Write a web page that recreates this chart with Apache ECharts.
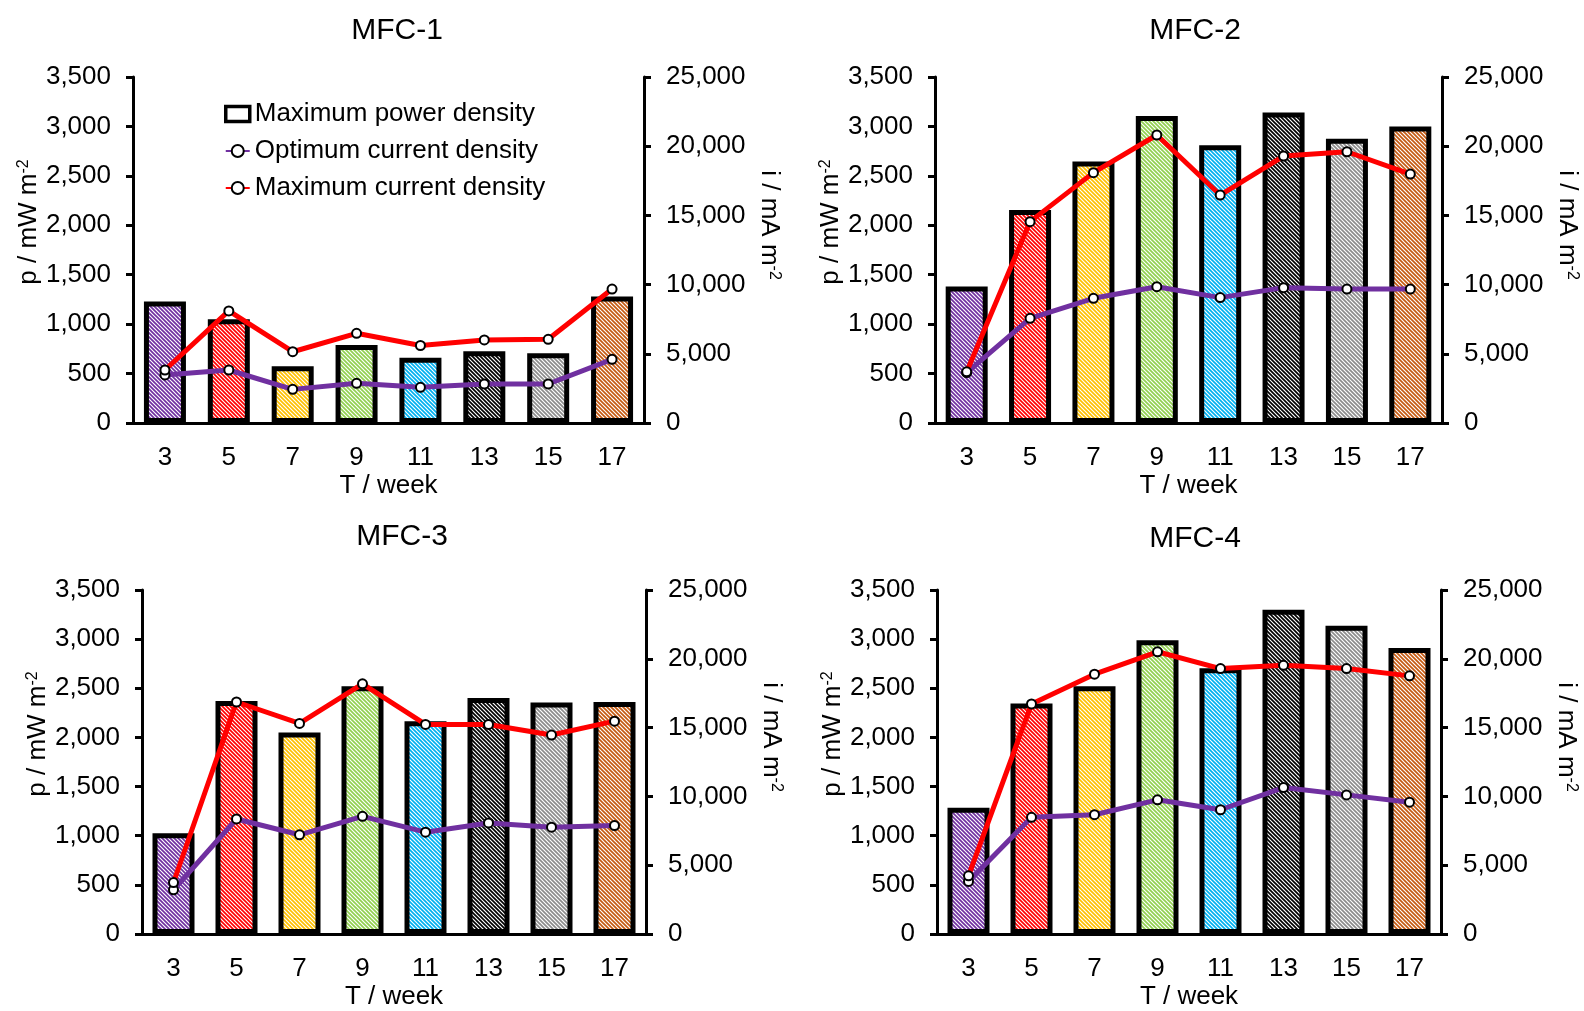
<!DOCTYPE html>
<html>
<head>
<meta charset="utf-8">
<title>MFC power and current density</title>
<script src="https://cdn.jsdelivr.net/npm/echarts@6/dist/echarts.min.js"></script>
<style>
  html, body { margin: 0; padding: 0; background: #fff; }
  #chart-container { width: 1584px; height: 1011px; }
</style>
</head>
<body>
<div id="chart-container"></div>
<script>
// weeks on the x axis
var weeks = ['3', '5', '7', '9', '11', '13', '15', '17'];
var panelTitles = ['MFC-1', 'MFC-2', 'MFC-3', 'MFC-4'];
var leftTicks = [0, 3500, 500];
var rightTicks = [0, 25000, 5000];

// maximum power density, mW m-2 (bars)
var mfc1Power = [1230, 1050, 575, 790, 660, 725, 705, 1280];
var mfc2Power = [1380, 2155, 2645, 3105, 2810, 3140, 2875, 3000];
var mfc3Power = [1025, 2370, 2050, 2520, 2165, 2400, 2355, 2360];
var mfc4Power = [1285, 2345, 2520, 2990, 2705, 3300, 3135, 2910];

// optimum current density, mA m-2 (purple line)
var mfc1Opt = [3470, 3830, 2430, 2870, 2580, 2820, 2820, 4600];
var mfc2Opt = [3640, 7560, 9010, 9850, 9060, 9780, 9680, 9680];
var mfc3Opt = [3210, 8360, 7210, 8550, 7400, 8070, 7760, 7880];
var mfc4Opt = [3820, 8480, 8670, 9750, 9030, 10640, 10110, 9580];

// maximum current density, mA m-2 (red line)
var mfc1Max = [3830, 8100, 5150, 6480, 5600, 6000, 6050, 9680];
var mfc2Max = [3700, 14550, 18090, 20810, 16470, 19290, 19600, 17990];
var mfc3Max = [3740, 16860, 15300, 18180, 15230, 15230, 14460, 15470];
var mfc4Max = [4230, 16720, 18880, 20510, 19290, 19530, 19290, 18760];

var powerData = [mfc1Power, mfc2Power, mfc3Power, mfc4Power];
var optData = [mfc1Opt, mfc2Opt, mfc3Opt, mfc4Opt];
var maxData = [mfc1Max, mfc2Max, mfc3Max, mfc4Max];

var barColors = ['#7030A0', '#FF0000', '#FFC000', '#92D050', '#00B0F0', '#000000', '#8C8C8C', '#C55A11'];

var FONT = '"Liberation Sans", Arial, sans-serif';

// diagonal hatch pattern (\\\) on white
function hatch(color) {
  var c = document.createElement('canvas');
  c.width = 8;
  c.height = 8;
  var ctx = c.getContext('2d');
  ctx.fillStyle = '#fff';
  ctx.fillRect(0, 0, 8, 8);
  ctx.strokeStyle = color;
  ctx.lineWidth = 1.7;
  for (var k = -8; k <= 8; k += 4) {
    ctx.beginPath();
    ctx.moveTo(k - 2, -2);
    ctx.lineTo(k + 10, 10);
    ctx.stroke();
  }
  return c;
}
var patterns = barColors.map(hatch);

// plot areas
var grids = [
  { left: 133, top: 77, width: 511, height: 346 },
  { left: 935, top: 77, width: 507, height: 346 },
  { left: 142, top: 590, width: 504, height: 348 },
  { left: 937, top: 590, width: 504, height: 347 }
];
var titlePos = [[392, 11], [1190, 11], [397, 517], [1190, 519]];

function fmt(v) { return v.toLocaleString('en-US'); }

var axisLine = { show: true, lineStyle: { color: '#000', width: 3 } };
var axisTick = { show: true, length: 7, lineStyle: { color: '#000', width: 3 } };
var labelStyle = { color: '#000', fontSize: 26, fontFamily: FONT };
var supRich = { sup: { fontSize: 16, fontFamily: FONT, color: '#000', verticalAlign: 'top' } };

var title = [], xAxis = [], yAxis = [], series = [];

for (var p = 0; p < 4; p++) {
  title.push({
    text: panelTitles[p],
    left: titlePos[p][0],
    top: titlePos[p][1],
    textAlign: 'center',
    textStyle: { color: '#000', fontSize: 30, fontWeight: 'normal', fontFamily: FONT }
  });
  xAxis.push({
    type: 'category',
    gridIndex: p,
    data: weeks,
    name: 'T / week',
    nameLocation: 'middle',
    nameGap: 50,
    nameTextStyle: labelStyle,
    axisLine: axisLine,
    axisTick: { show: false },
    axisLabel: { color: '#000', fontSize: 26, fontFamily: FONT, margin: 22 }
  });
  yAxis.push({
    type: 'value',
    gridIndex: p,
    position: 'left',
    min: leftTicks[0], max: leftTicks[1], interval: leftTicks[2],
    name: 'p / mW m{sup|-2}',
    nameLocation: 'middle',
    nameGap: 90,
    nameTextStyle: { color: '#000', fontSize: 26, fontFamily: FONT, rich: supRich, padding: [0, 0, 0, 56] },
    axisLine: axisLine,
    axisTick: axisTick,
    splitLine: { show: false },
    axisLabel: { color: '#000', fontSize: 26, fontFamily: FONT, margin: 22, formatter: fmt }
  });
  yAxis.push({
    type: 'value',
    gridIndex: p,
    position: 'right',
    min: rightTicks[0], max: rightTicks[1], interval: rightTicks[2],
    name: 'i / mA m{sup|-2}',
    nameLocation: 'middle',
    nameRotate: -90,
    nameGap: 112,
    nameTextStyle: { color: '#000', fontSize: 26, fontFamily: FONT, rich: supRich, padding: [0, 50, 0, 0] },
    axisLine: axisLine,
    axisTick: axisTick,
    splitLine: { show: false },
    axisLabel: { color: '#000', fontSize: 26, fontFamily: FONT, margin: 22, formatter: fmt }
  });

  series.push({
    name: 'Maximum power density',
    type: 'bar',
    xAxisIndex: p,
    yAxisIndex: p * 2,
    barWidth: 42,
    data: powerData[p].map(function (v, i) {
      return { value: v, itemStyle: { color: { image: patterns[i], repeat: 'repeat' } } };
    }),
    itemStyle: { borderColor: '#000', borderWidth: 5 }
  });
  series.push({
    name: 'Optimum current density',
    type: 'line',
    xAxisIndex: p,
    yAxisIndex: p * 2 + 1,
    data: optData[p],
    symbol: 'circle',
    symbolSize: 9,
    lineStyle: { color: '#7030A0', width: 5 },
    itemStyle: { color: '#fff', borderColor: '#000', borderWidth: 2 },
    z: 3
  });
  series.push({
    name: 'Maximum current density',
    type: 'line',
    xAxisIndex: p,
    yAxisIndex: p * 2 + 1,
    data: maxData[p],
    symbol: 'circle',
    symbolSize: 9,
    lineStyle: { color: '#FF0000', width: 5 },
    itemStyle: { color: '#fff', borderColor: '#000', borderWidth: 2 },
    z: 4
  });
}

var dom = document.getElementById('chart-container');
var myChart = echarts.init(dom, null, { renderer: 'canvas' });

var option = {
  backgroundColor: '#fff',
  animation: false,
  title: title,
  grid: grids,
  legend: {
    orient: 'vertical',
    left: 219,
    top: 96,
    itemGap: 11,
    itemWidth: 24,
    itemHeight: 15,
    textStyle: { color: '#000', fontSize: 26, fontFamily: FONT },
    data: [
      { name: 'Maximum power density', icon: 'rect', itemStyle: { color: '#fff', borderColor: '#000', borderWidth: 3.5 } },
      { name: 'Optimum current density' },
      { name: 'Maximum current density' }
    ]
  },
  xAxis: xAxis,
  yAxis: yAxis,
  series: series
};

myChart.setOption(option);
window.addEventListener('resize', myChart.resize);
</script>
</body>
</html>
